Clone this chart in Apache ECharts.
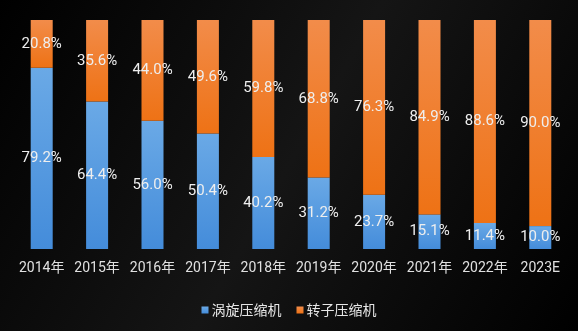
<!DOCTYPE html>
<html><head><meta charset="utf-8">
<script src="https://cdn.jsdelivr.net/npm/echarts@6/dist/echarts.min.js"></script>
<style>html,body{margin:0;padding:0;background:#000;}#c{width:578px;height:331px;}</style>
</head><body><div id="c"></div>
<script>
const categories = ['2014年','2015年','2016年','2017年','2018年','2019年','2020年','2021年','2022年','2023E'];
const scrollValues = [79.2,64.4,56.0,50.4,40.2,31.2,23.7,15.1,11.4,10.0];
const rotorValues = [20.8,35.6,44.0,49.6,59.8,68.8,76.3,84.9,88.6,90.0];
const seriesNames = ['涡旋压缩机','转子压缩机'];

const chart = echarts.init(document.getElementById('c'));
const lbl = {show:true,position:'inside',color:'#eeeeee',fontSize:15,fontFamily:'Roboto, "Noto Sans CJK SC", sans-serif',formatter:p=>p.value.toFixed(1)+'%'};
chart.setOption({
  backgroundColor:{type:'linear',x:0,y:0,x2:1,y2:1,colorStops:[{offset:0,color:'#000'},{offset:0.5,color:'#151515'},{offset:1,color:'#000'}]},
  animation:false,
  grid:{left:14,right:10,top:20,bottom:82},
  legend:{bottom:9,left:'center',itemWidth:7,itemHeight:7,itemGap:15,icon:'rect',
    textStyle:{color:'#e6e6e6',fontSize:14,fontFamily:'"Noto Sans CJK SC", sans-serif',padding:[0,0,0,-2]},
    data:seriesNames},
  xAxis:{type:'category',data:categories,axisLine:{show:false},axisTick:{show:false},
    axisLabel:{interval:0,color:'#e0e0e0',fontSize:14,margin:13,fontFamily:'Roboto, "Noto Sans CJK SC", sans-serif'}},
  yAxis:{type:'value',min:0,max:100,show:false,splitLine:{show:false}},
  series:[
    {name:seriesNames[0],type:'bar',stack:'a',barWidth:22,data:scrollValues,label:lbl,
     itemStyle:{color:{type:'linear',x:0,y:0,x2:0,y2:1,colorStops:[{offset:0,color:'#6aa9e6'},{offset:1,color:'#448cda'}]}}},
    {name:seriesNames[1],type:'bar',stack:'a',barWidth:22,data:rotorValues,label:lbl,
     itemStyle:{color:{type:'linear',x:0,y:0,x2:0,y2:1,colorStops:[{offset:0,color:'#f28c4a'},{offset:1,color:'#ee7215'}]}}}
  ]
});
</script></body></html>
